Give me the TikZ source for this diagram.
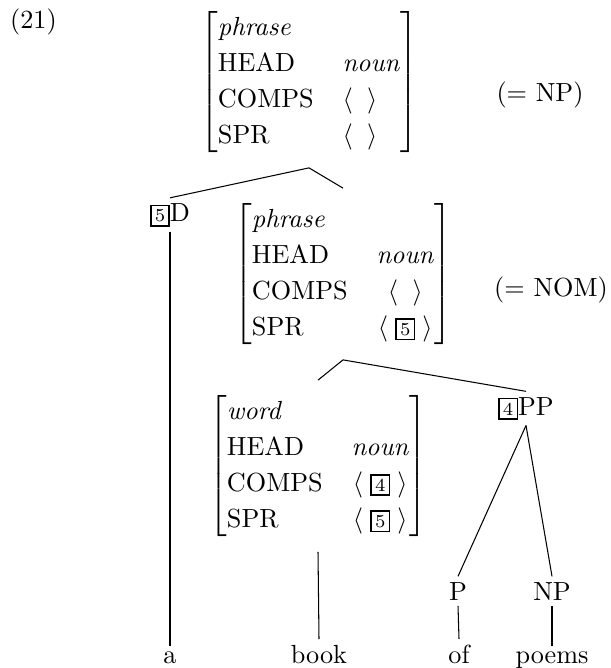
\documentclass[tikz,border=0pt]{standalone}
\usepackage{tikz}
\usepackage{amsmath}
\usepackage{amssymb}
\usetikzlibrary{positioning}
\renewcommand{\arraystretch}{1.145}
\newcommand{\tagbox}[1]{{\setlength{\fboxsep}{1.2pt}\setlength{\fboxrule}{0.6pt}\fbox{\scriptsize #1}}}
\newcommand{\emptylist}{$\langle\;\;\rangle$}
\newcommand{\taglist}[1]{$\langle\;\tagbox{#1}\;\rangle$}

\begin{document}
\begin{tikzpicture}[x=0.3817pt,y=-0.3817pt,line width=0.4pt,
    fs node/.style={inner sep=0pt,outer sep=5.3pt},
    cat node/.style={inner sep=2pt,anchor=base}, label node/.style={inner sep=0pt}]
   \useasboundingbox (0,0) rectangle (610,668);
   \begin{scope}
     \node[label node] (ex) at (33.5,21.5) {(21)};
     % mother: NP
     \node[fs node] (np) at (309,82) {$\left[\begin{tabular}{@{}l@{\hspace{11pt}}l@{}}
        \textit{phrase} & \\ HEAD & \textit{noun} \\ COMPS & \emptylist \\ SPR & \emptylist
        \end{tabular}\right]$};
     \node[label node] (npeq) at (540,95) {(= NP)};
     \node[cat node] (det) at (170,221.5) {\tagbox{5}D};
     % NOM
     \node[fs node] (nom) at (343,274) {$\left[\begin{tabular}{@{}l@{\hspace{11pt}}c@{}}
        \textit{phrase} & \\ HEAD & \textit{noun} \\ COMPS & \emptylist \\ SPR & \taglist{5}
        \end{tabular}\right]$};
     \node[label node] (nomeq) at (551,290) {(= NOM)};
     % head noun
     \node[fs node] (noun) at (318,466) {$\left[\begin{tabular}{@{}l@{\hspace{11pt}}c@{}}
        \textit{word} & \\ HEAD & \textit{noun} \\ COMPS & \taglist{4} \\ SPR & \taglist{5}
        \end{tabular}\right]$};
     \node[cat node] (pp) at (526,415) {\tagbox{4}PP};
     \node[cat node] (p) at (458,600) {P};
     \node[cat node] (np2) at (552,600) {NP};
     \node[cat node] (a) at (170,663) {a};
     \node[cat node] (book) at (319,663) {book};
     \node[cat node] (of) at (459,663) {of};
     \node[cat node] (poems) at (552,663) {poems};
      \path[-] (np.south) edge (det.north);
      \path[-] (np.south) edge (nom.north);
      \path[-] (det.south) edge (a.north);
      \path[-] (nom.south) edge (noun.north);
      \path[-] (nom.south) edge (pp.north);
      \path[-] (noun.south) edge (book.north);
      \path[-] (pp.south) edge (p.north);
      \path[-] (pp.south) edge (np2.north);
      \path[-] (p.south) edge (of.north);
      \path[-] (np2.south) edge (poems.north);
    \end{scope}
  \end{tikzpicture}
\end{document}
